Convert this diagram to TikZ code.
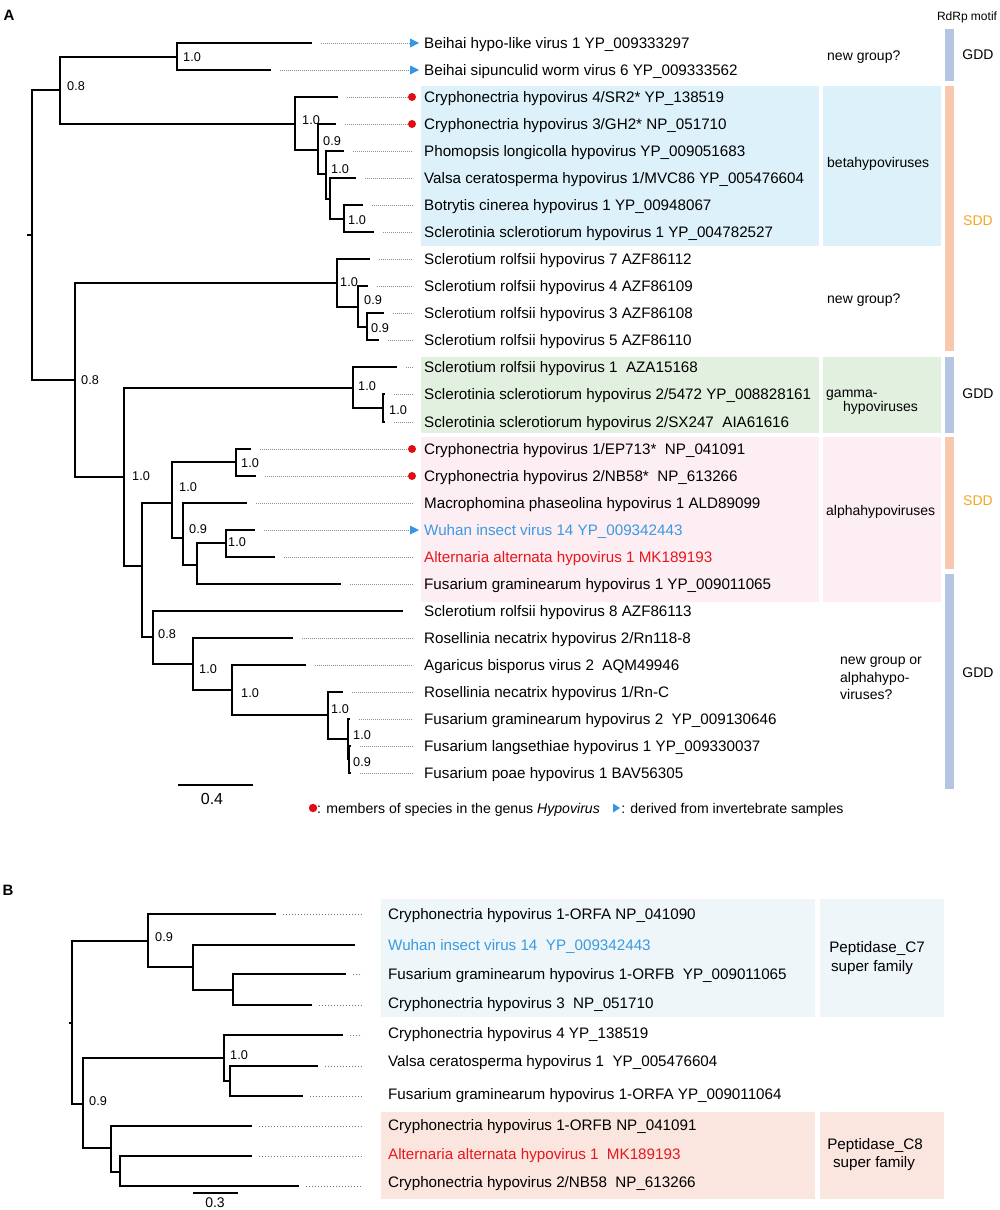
\documentclass[tikz,border=0pt]{standalone}
\usepackage{fontspec}
\setmainfont{Liberation Sans}
\usetikzlibrary{calc}
\definecolor{cyanbg}{RGB}{220,241,250}
\definecolor{greenbg}{RGB}{226,240,224}
\definecolor{pinkbg}{RGB}{253,238,244}
\definecolor{bluebgB}{RGB}{238,246,250}
\definecolor{pinkbgB}{RGB}{251,230,223}
\definecolor{barblue}{RGB}{180,196,225}
\definecolor{barorange}{RGB}{248,200,174}
\definecolor{sddorange}{RGB}{245,166,35}
\definecolor{wuhanblue}{RGB}{58,154,224}
\definecolor{altred}{RGB}{232,22,27}
\definecolor{dotred}{RGB}{228,12,20}
\definecolor{triblue}{RGB}{52,150,232}
\begin{document}
\begin{tikzpicture}[x=1pt,y=-1pt,
  br/.style={line width=1.7pt,black,line join=miter},
  dt/.style={draw=black!45,line width=0.7pt,dash pattern=on 0.7pt off 1.3pt},
  dtB/.style={draw=black!55,line width=0.8pt,dash pattern=on 0.9pt off 2.1pt},
  lab/.style={anchor=west,inner sep=0pt,font=\fontsize{15.2}{17}\selectfont,text height=10.9pt,text depth=0pt},
  leg/.style={anchor=west,inner sep=0pt,font=\fontsize{14.1}{16}\selectfont,text height=10.1pt,text depth=0pt},
  bs/.style={anchor=west,inner sep=0pt,font=\fontsize{12.7}{14}\selectfont,text height=9.1pt,text depth=0pt},
  grp/.style={anchor=west,inner sep=0pt,font=\fontsize{14}{16}\selectfont,text height=10pt,text depth=0pt},
  motif/.style={anchor=center,inner sep=0pt,font=\fontsize{14}{16}\selectfont,text height=10pt,text depth=0pt},
  panel/.style={anchor=center,inner sep=0pt,font=\fontsize{15}{17}\selectfont\bfseries,text height=10.7pt,text depth=0pt}
]
\useasboundingbox (0,0) rectangle (1000,1210);

% ---------------- backgrounds panel A
\fill[cyanbg] (421,86) rectangle (819,246);
\fill[cyanbg] (823,86) rectangle (941,246);
\fill[greenbg] (421,357) rectangle (819,433);
\fill[greenbg] (823,357) rectangle (941,433);
\fill[pinkbg] (421,437) rectangle (819,602);
\fill[pinkbg] (823,437) rectangle (941,602);
% motif bars
\fill[barblue] (945,29) rectangle (954,81);
\fill[barorange] (945,86) rectangle (954,351);
\fill[barblue] (945,357) rectangle (954,433);
\fill[barorange] (945,437) rectangle (954,569);
\fill[barblue] (945,574) rectangle (954,789);

% ---------------- backgrounds panel B
\fill[bluebgB] (381,899) rectangle (815,1017);
\fill[bluebgB] (820,899) rectangle (944,1017);
\fill[pinkbgB] (381,1112) rectangle (815,1199);
\fill[pinkbgB] (820,1112) rectangle (944,1199);

\node[panel] (pA) at (9,15) {A};
\node[panel] (pB) at (8,890) {B};

% ---------------- panel A tree coordinates
\coordinate (rAs) at (27,235);
\coordinate (rA) at (32,235);
\coordinate (nA) at (60,90);
\coordinate (nBe) at (177,57);
\coordinate (nBeta) at (295,124);
\coordinate (nb1) at (318,150);
\coordinate (nb2) at (326,174);
\coordinate (nb3) at (330,199);
\coordinate (nb4) at (344,219);
\coordinate (nB) at (75,380);
\coordinate (nSR) at (337,283);
\coordinate (ns1) at (358,307);
\coordinate (ns2) at (367,327);
\coordinate (nC) at (124,477);
\coordinate (nG) at (353,388);
\coordinate (ng1) at (383,408);
\coordinate (nD) at (142,566);
\coordinate (nE) at (172,503);
\coordinate (nCh) at (236,462);
\coordinate (nF) at (183,538);
\coordinate (nGg) at (197,565);
\coordinate (nH) at (226,543);
\coordinate (nI) at (153,637);
\coordinate (nJ) at (193,664);
\coordinate (nK) at (232,690);
\coordinate (nL) at (328,715);
\coordinate (nM) at (348,739);
\coordinate (nN) at (349,759);

\foreach \n/\x/\y in {a1/312/43,a2/271/70,a3/338/97,a4/336/124,a5/344/151,a6/356/178,a7/363/205,a8/374/232,
  a9/370/259,a10/368/286,a11/384/313,a12/379/340,a13/397/367,a14/385/394,a15/385/422,a16/251/449,a17/256/476,
  a18/247/503,a19/255/530,a20/275/557,a21/341/584,a22/403/611,a23/293/638,a24/306/665,a25/343/692,a26/350/719,
  a27/351/746,a28/351/773}
  {\coordinate (\n) at (\x,\y);}

% ---------------- panel A labels
\node[lab] (La1) at (424,43) {Beihai hypo-like virus 1 YP\_009333297};
\node[lab] (La2) at (424,70) {Beihai sipunculid worm virus 6 YP\_009333562};
\node[lab] (La3) at (424,97) {Cryphonectria hypovirus 4/SR2* YP\_138519};
\node[lab] (La4) at (424,124) {Cryphonectria hypovirus 3/GH2* NP\_051710};
\node[lab] (La5) at (424,151) {Phomopsis longicolla hypovirus YP\_009051683};
\node[lab] (La6) at (424,178) {Valsa ceratosperma hypovirus 1/MVC86 YP\_005476604};
\node[lab] (La7) at (424,205) {Botrytis cinerea hypovirus 1 YP\_00948067};
\node[lab] (La8) at (424,232) {Sclerotinia sclerotiorum hypovirus 1 YP\_004782527};
\node[lab] (La9) at (424,259) {Sclerotium rolfsii hypovirus 7 AZF86112};
\node[lab] (La10) at (424,286) {Sclerotium rolfsii hypovirus 4 AZF86109};
\node[lab] (La11) at (424,313) {Sclerotium rolfsii hypovirus 3 AZF86108};
\node[lab] (La12) at (424,340) {Sclerotium rolfsii hypovirus 5 AZF86110};
\node[lab] (La13) at (424,367) {Sclerotium rolfsii hypovirus 1\ \ AZA15168};
\node[lab] (La14) at (424,394) {Sclerotinia sclerotiorum hypovirus 2/5472 YP\_008828161};
\node[lab] (La15) at (424,422) {Sclerotinia sclerotiorum hypovirus 2/SX247\ \ AIA61616};
\node[lab] (La16) at (424,449) {Cryphonectria hypovirus 1/EP713*\ \ NP\_041091};
\node[lab] (La17) at (424,476) {Cryphonectria hypovirus 2/NB58*\ \ NP\_613266};
\node[lab] (La18) at (424,503) {Macrophomina phaseolina hypovirus 1 ALD89099};
\node[lab,text=wuhanblue] (La19) at (424,530) {Wuhan insect virus 14 YP\_009342443};
\node[lab,text=altred] (La20) at (424,557) {Alternaria alternata hypovirus 1 MK189193};
\node[lab] (La21) at (424,584) {Fusarium graminearum hypovirus 1 YP\_009011065};
\node[lab] (La22) at (424,611) {Sclerotium rolfsii hypovirus 8 AZF86113};
\node[lab] (La23) at (424,638) {Rosellinia necatrix hypovirus 2/Rn118-8};
\node[lab] (La24) at (424,665) {Agaricus bisporus virus 2\ \ AQM49946};
\node[lab] (La25) at (424,692) {Rosellinia necatrix hypovirus 1/Rn-C};
\node[lab] (La26) at (424,719) {Fusarium graminearum hypovirus 2\ \ YP\_009130646};
\node[lab] (La27) at (424,746) {Fusarium langsethiae hypovirus 1 YP\_009330037};
\node[lab] (La28) at (424,773) {Fusarium poae hypovirus 1 BAV56305};

% dotted leaders
\foreach \n in {a1,a2,a3,a4,a5,a6,a7,a8,a9,a10,a11,a12,a13,a14,a15,a16,a17,a18,a19,a20,a21,a23,a24,a25,a26,a27,a28}
  {\draw[dt] ($(\n)+(9,0)$) -- ($(L\n.west)+(-11,0)$);}

% markers
\foreach \n in {a1,a2,a19}
  {\fill[triblue] ($(L\n.west)+(-14,-4.5)$) -- ++(9,4.5) -- ++(-9,4.5) -- cycle;}
\foreach \n in {a3,a4,a16,a17}
  {\fill[dotred] ($(L\n.west)+(-12,0)$) circle (4);}

% tree A
\draw[br] (rAs) -- (rA);
\foreach \p/\c in {rA/nA,rA/nB,nA/nBe,nA/nBeta,nBe/a1,nBe/a2,nBeta/a3,nBeta/nb1,nb1/a4,nb1/nb2,
  nb2/a5,nb2/nb3,nb3/a6,nb3/nb4,nb4/a7,nb4/a8,nB/nSR,nB/nC,nSR/a9,nSR/ns1,ns1/a10,ns1/ns2,ns2/a11,ns2/a12,
  nC/nG,nC/nD,nG/a13,nG/ng1,ng1/a14,ng1/a15,nD/nE,nD/nI,nE/nCh,nE/nF,nCh/a16,nCh/a17,nF/a18,nF/nGg,
  nGg/nH,nGg/a21,nH/a19,nH/a20,nI/a22,nI/nJ,nJ/a23,nJ/nK,nK/a24,nK/nL,nL/a25,nL/nM,nM/a26,nM/nN,nN/a27,nN/a28}
  {\draw[br] (\p) |- (\c);}

% bootstrap values A
\node[bs] (bA) at (67,86) {0.8};
\node[bs] (bBe) at (183,57) {1.0};
\node[bs] (bBeta) at (302,120) {1.0};
\node[bs] (bb1) at (323,141) {0.9};
\node[bs] (bb2) at (331,169) {1.0};
\node[bs] (bb4) at (348,220) {1.0};
\node[bs] (bB) at (81,380) {0.8};
\node[bs] (bSR) at (340,282) {1.0};
\node[bs] (bs1) at (364,300) {0.9};
\node[bs] (bs2) at (371,328) {0.9};
\node[bs] (bC) at (132,476) {1.0};
\node[bs] (bG) at (358,386) {1.0};
\node[bs] (bg1) at (389,410) {1.0};
\node[bs] (bE) at (179,487) {1.0};
\node[bs] (bCh) at (241,463) {1.0};
\node[bs] (bF) at (189,529) {0.9};
\node[bs] (bH) at (228,542) {1.0};
\node[bs] (bI) at (158,634) {0.8};
\node[bs] (bJ) at (199,669) {1.0};
\node[bs] (bK) at (241,693) {1.0};
\node[bs] (bL) at (331,709) {1.0};
\node[bs] (bM) at (353,735) {1.0};
\node[bs] (bN) at (353,762) {0.9};

% scale bar A
\coordinate (sA1) at (178,785);
\coordinate (sA2) at (253,785);
\draw[line width=1.4pt] (sA1) -- (sA2);
\node[anchor=center,inner sep=0pt,font=\fontsize{16}{18}\selectfont,text height=11.4pt,text depth=0pt] (sAl) at (212,799) {0.4};

% legend
\fill[dotred] (313,808) circle (4.2);
\node[leg] (leg1) at (317,808) {: members of species in the genus \textit{Hypovirus}};
\fill[triblue] ($(leg1.east)+(13,-4.5)$) -- ++(7,4.5) -- ++(-7,4.5) -- cycle;
\node[leg] (leg2) at ($(leg1.east)+(21,0)$) {: derived from invertebrate samples};

% group labels
\node[grp] (g1) at (827,55) {new group?};
\node[grp] (g2) at (827,162) {betahypoviruses};
\node[grp] (g3) at (827,298) {new group?};
\node[grp] (g4) at (826,392) {gamma-};
\node[grp] (g5) at (843,406) {hypoviruses};
\node[grp] (g6) at (826,510) {alphahypoviruses};
\node[grp] (g7) at (840,659) {new group or};
\node[grp] (g8) at (840,677) {alphahypo-};
\node[grp] (g9) at (840,694) {viruses?};

% motif labels
\node[anchor=center,inner sep=0pt,font=\fontsize{12}{14}\selectfont,text height=8.6pt,text depth=0pt] (mt) at (967,16) {RdRp motif};
\node[motif] (m1) at (978,54) {GDD};
\node[motif,text=sddorange] (m2) at (978,220) {SDD};
\node[motif] (m3) at (978,393) {GDD};
\node[motif,text=sddorange] (m4) at (978,500) {SDD};
\node[motif] (m5) at (978,672) {GDD};

% ---------------- panel B tree
\coordinate (rBs) at (69,1023);
\coordinate (rB) at (72,1023);
\coordinate (nP) at (148,941);
\coordinate (nQ) at (193,967);
\coordinate (nR) at (233,990);
\coordinate (nS) at (83,1104);
\coordinate (nT) at (224,1058);
\coordinate (nU) at (230,1081);
\coordinate (nV) at (111,1148);
\coordinate (nW) at (120,1172);
\foreach \n/\x/\y in {b1/276/914,b2/355/945,b3/346/974,b4/312/1005,b5/343/1035,b6/318/1066,b7/303/1096,
  b8/252/1126,b9/252/1156,b10/299/1186}
  {\coordinate (\n) at (\x,\y);}

\node[lab] (Lb1) at (388,914) {Cryphonectria hypovirus 1-ORFA NP\_041090};
\node[lab,text=wuhanblue] (Lb2) at (388,945) {Wuhan insect virus 14\ \ YP\_009342443};
\node[lab] (Lb3) at (388,974) {Fusarium graminearum hypovirus 1-ORFB\ \ YP\_009011065};
\node[lab] (Lb4) at (388,1003) {Cryphonectria hypovirus 3\ \ NP\_051710};
\node[lab] (Lb5) at (388,1033) {Cryphonectria hypovirus 4 YP\_138519};
\node[lab] (Lb6) at (388,1061) {Valsa ceratosperma hypovirus 1\ \ YP\_005476604};
\node[lab] (Lb7) at (388,1094) {Fusarium graminearum hypovirus 1-ORFA YP\_009011064};
\node[lab] (Lb8) at (388,1125) {Cryphonectria hypovirus 1-ORFB NP\_041091};
\node[lab,text=altred] (Lb9) at (388,1154) {Alternaria alternata hypovirus 1\ \ MK189193};
\node[lab] (Lb10) at (388,1182) {Cryphonectria hypovirus 2/NB58\ \ NP\_613266};

\foreach \n in {b1,b2,b3,b4,b5,b6,b7,b8,b9,b10}
  {\draw[dtB] ($(\n)+(7,0)$) -- ($(\n -| L\n.west)+(-26,0)$);}

\draw[br] (rBs) -- (rB);
\foreach \p/\c in {rB/nP,rB/nS,nP/b1,nP/nQ,nQ/b2,nQ/nR,nR/b3,nR/b4,nS/nT,nS/nV,nT/b5,nT/nU,nU/b6,nU/b7,
  nV/b8,nV/nW,nW/b9,nW/b10}
  {\draw[br] (\p) |- (\c);}

\node[bs] (bP) at (155,937) {0.9};
\node[bs] (bT) at (230,1055) {1.0};
\node[bs] (bS) at (89,1101) {0.9};

\coordinate (sB1) at (193,1193);
\coordinate (sB2) at (238,1193);
\draw[line width=1.4pt] (sB1) -- (sB2);
\node[anchor=center,inner sep=0pt,font=\fontsize{14}{16}\selectfont,text height=10pt,text depth=0pt] (sBl) at (215,1202) {0.3};

\node[lab,anchor=center] (pc7a) at (877,947) {Peptidase\_C7};
\node[lab,anchor=center] (pc7b) at (872,966) {super family};
\node[lab,anchor=center] (pc8a) at (875,1144) {Peptidase\_C8};
\node[lab,anchor=center] (pc8b) at (874,1162) {super family};
\end{tikzpicture}
\end{document}
